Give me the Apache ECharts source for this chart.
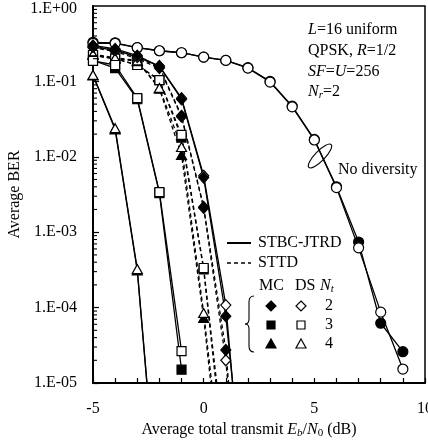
<!DOCTYPE html>
<html>
<head>
<meta charset="utf-8">
<script src="https://cdn.jsdelivr.net/npm/echarts/dist/echarts.min.js"></script>
<style>
  html, body { margin: 0; padding: 0; background: #fff; }
  #chart { width: 428px; height: 440px; }
</style>
</head>
<body>
<div id="chart"></div>
<script>
  // Eb/N0 (dB) grid, every series starts at -5 dB
  const snr = [-5, -4, -3, -2, -1, 0, 1, 2, 3, 4, 5, 6, 7, 8, 9]

  // no diversity
  const noDivMC = [0.33, 0.325, 0.28, 0.255, 0.24, 0.21, 0.19, 0.152, 0.1, 0.047, 0.017, 0.004, 7.4e-4, 6.2e-5, 2.6e-5]
  const noDivDS = [0.32, 0.32, 0.28, 0.255, 0.24, 0.21, 0.19, 0.15, 0.098, 0.046, 0.0167, 0.0039, 6.2e-4, 8.7e-5, 1.53e-5]

  // STBC-JTRD (solid)
  const jtrdMC2 = [0.3, 0.27, 0.22, 0.158, 0.058, 0.0053, 7.7e-5, 1e-7]
  const jtrdDS2 = [0.286, 0.26, 0.21, 0.16, 0.06, 0.0056, 1.08e-4, 5e-8]
  const jtrdMC3 = [0.19, 0.15, 0.058, 0.0033, 1.5e-5]
  const jtrdDS3 = [0.187, 0.165, 0.06, 0.0034, 2.65e-5]
  const jtrdMC4 = [0.12, 0.023, 3.1e-4, 1.1e-7]
  const jtrdDS4 = [0.122, 0.024, 3.25e-4, 1.2e-7]

  // STTD (dashed)
  const sttdMC2 = [0.29, 0.26, 0.21, 0.155, 0.035, 0.00216, 2.74e-5, 1e-8]
  const sttdDS2 = [0.28, 0.25, 0.2, 0.15, 0.034, 0.0021, 2.0e-5, 1e-8]
  const sttdMC3 = [0.22, 0.2, 0.165, 0.104, 0.018, 3.2e-4, 6e-7]
  const sttdDS3 = [0.224, 0.2, 0.165, 0.104, 0.0195, 3.35e-4, 8.7e-7]
  const sttdMC4 = [0.225, 0.2, 0.185, 0.08, 0.0106, 7.3e-5, 1.5e-7]
  const sttdDS4 = [0.23, 0.205, 0.19, 0.082, 0.0135, 8.5e-5, 2.4e-7]

  const yDecades = [-5, -4, -3, -2, -1]
  const minorMantissa = [2, 3, 4, 5, 6, 7, 8, 9]

  const FONT = '"Liberation Serif", "Times New Roman", serif'

  function mk (name, vals, symbol, filled, dashed, size) {
    return {
      name: name,
      type: 'line',
      data: vals.map((v, i) => [snr[i], v]),
      symbol: symbol,
      symbolSize: size,
      showAllSymbol: true,
      clip: true,
      lineStyle: { color: '#000', width: 1.3, type: dashed ? [4, 3] : 'solid' },
      itemStyle: { color: filled ? '#000' : '#fff', borderColor: '#000', borderWidth: 1.2 },
      emphasis: { disabled: true }
    }
  }

  const minorTicks = []
  yDecades.forEach(e => minorMantissa.forEach(m => minorTicks.push([-5, m * Math.pow(10, e)])))

  const rich = {
    n: { fontFamily: FONT, fontSize: 16, color: '#000' },
    i: { fontFamily: FONT, fontSize: 16, fontStyle: 'italic', color: '#000' },
    sub: { fontFamily: FONT, fontSize: 11, fontStyle: 'italic', color: '#000', padding: [7, 0, 0, 0] },
    subn: { fontFamily: FONT, fontSize: 11, color: '#000', padding: [7, 0, 0, 0] }
  }
  function txt (x, y, text, align) {
    return {
      type: 'text', x: x, y: y, silent: true,
      style: { text: text, rich: rich, font: '16px ' + FONT, fill: '#000', align: align || 'left', verticalAlign: 'middle' }
    }
  }
  function diamond (cx, cy, filled) {
    return { type: 'polygon', shape: { points: [[cx, cy - 5], [cx + 5, cy], [cx, cy + 5], [cx - 5, cy]] },
      style: { fill: filled ? '#000' : '#fff', stroke: '#000', lineWidth: 1.2 } }
  }
  function square (cx, cy, filled) {
    return { type: 'rect', shape: { x: cx - 4, y: cy - 4, width: 8, height: 8 },
      style: { fill: filled ? '#000' : '#fff', stroke: '#000', lineWidth: 1.2 } }
  }
  function triangle (cx, cy, filled) {
    return { type: 'polygon', shape: { points: [[cx, cy - 5], [cx + 5, cy + 4], [cx - 5, cy + 4]] },
      style: { fill: filled ? '#000' : '#fff', stroke: '#000', lineWidth: 1.2 } }
  }
  const bz = (x1, y1, cx, cy, x2, y2) => ({ type: 'bezierCurve',
    shape: { x1: x1, y1: y1, x2: x2, y2: y2, cpx1: cx, cpy1: cy },
    style: { stroke: '#000', fill: null, lineWidth: 1.1 } })

  const chart = echarts.init(document.getElementById('chart'))
  chart.setOption({
    animation: false,
    grid: {
      left: 93, right: 3, top: 6, bottom: 57, show: true, borderColor: '#000', borderWidth: 1.5,
      containLabel: false, outerBoundsMode: 'none'
    },
    xAxis: {
      type: 'value', min: -5, max: 10, interval: 5,
      axisLine: { show: true, onZero: false, lineStyle: { color: '#000', width: 2 } },
      axisTick: { inside: true, length: 5, lineStyle: { color: '#000', width: 1.2 } },
      minorTick: { show: true, splitNumber: 5, length: 5, lineStyle: { color: '#000', width: 1.2 } },
      splitLine: { show: false },
      axisLabel: { margin: 18, color: '#000', fontSize: 16, fontFamily: FONT, showMaxLabel: true },
      name: '{n|Average total transmit }{i|E}{sub|b}{n|/}{i|N}{subn|0}{n| (dB)}',
      nameLocation: 'middle', nameGap: 37,
      nameTextStyle: { rich: rich, padding: [0, 20, 0, 0] }
    },
    yAxis: {
      type: 'log', logBase: 10, min: 1e-5, max: 1,
      axisLine: { show: true, onZero: false, lineStyle: { color: '#000', width: 2 } },
      axisTick: { inside: true, length: 6, lineStyle: { color: '#000', width: 1.2 } },
      splitLine: { show: false },
      axisLabel: {
        margin: 16, color: '#000', fontSize: 16, fontFamily: FONT, showMaxLabel: false,
        formatter: v => {
          const e = Math.round(Math.log10(v))
          return '1.E' + (e < 0 ? '-' : '+') + String(Math.abs(e)).padStart(2, '0')
        }
      },
      name: 'Average BER', nameLocation: 'middle', nameGap: 66,
      nameTextStyle: { color: '#000', fontSize: 16, fontFamily: FONT }
    },
    series: [
      mk('MC no div', noDivMC, 'circle', true, false, 10),
      mk('DS no div', noDivDS, 'circle', false, false, 10),
      mk('STTD DS 2', sttdDS2, 'diamond', false, true, [10, 11]),
      mk('STTD MC 2', sttdMC2, 'diamond', true, true, [10, 11]),
      mk('STTD MC 3', sttdMC3, 'rect', true, true, 9),
      mk('STTD DS 3', sttdDS3, 'rect', false, true, 9),
      mk('STTD MC 4', sttdMC4, 'triangle', true, true, [10, 9]),
      mk('STTD DS 4', sttdDS4, 'triangle', false, true, [10, 9]),
      mk('JTRD DS 2', jtrdDS2, 'diamond', false, false, [10, 11]),
      mk('JTRD MC 2', jtrdMC2, 'diamond', true, false, [10, 11]),
      mk('JTRD MC 3', jtrdMC3, 'rect', true, false, 9),
      mk('JTRD DS 3', jtrdDS3, 'rect', false, false, 9),
      mk('JTRD MC 4', jtrdMC4, 'triangle', true, false, [10, 9]),
      mk('JTRD DS 4', jtrdDS4, 'triangle', false, false, [10, 9]),
      {
        // log-spaced minor ticks on the BER axis
        type: 'custom', silent: true, z: 5, clip: false,
        data: minorTicks,
        renderItem (params, api) {
          const p = api.coord([api.value(0), api.value(1)])
          return { type: 'line', shape: { x1: p[0], y1: p[1], x2: p[0] + 4, y2: p[1] },
            style: { stroke: '#000', lineWidth: 1.1 } }
        }
      }
    ],
    graphic: [
      // top tick label sits a bit low in the original, keep it inside the page
      txt(77, 9, '{n|1.E+00}', 'right'),
      txt(308, 30, '{i|L}{n|=16 uniform}'),
      txt(308, 51, '{n|QPSK, }{i|R}{n|=1/2}'),
      txt(308, 72, '{i|SF}{n|=}{i|U}{n|=256}'),
      txt(308, 92, '{i|N}{sub|r}{n|=2}'),
      txt(338, 170, '{n|No diversity}'),
      { type: 'ellipse', x: 320, y: 156, rotation: 0.8, shape: { cx: 0, cy: 0, rx: 16, ry: 5 },
        style: { fill: null, stroke: '#000', lineWidth: 1.1 } },
      { type: 'line', shape: { x1: 227, y1: 243, x2: 251, y2: 243 }, style: { stroke: '#000', lineWidth: 2 } },
      txt(258, 243, '{n|STBC-JTRD}'),
      { type: 'line', shape: { x1: 227, y1: 263, x2: 251, y2: 263 }, style: { stroke: '#000', lineWidth: 1.3, lineDash: [4, 3] } },
      txt(258, 263, '{n|STTD}'),
      txt(259, 286, '{n|MC}'),
      txt(295, 286, '{n|DS}'),
      txt(320, 286, '{i|N}{sub|t}'),
      diamond(271, 306, true), diamond(301, 306, false), txt(329, 306, '{n|2}', 'center'),
      square(271, 325, true), square(301, 325, false), txt(329, 325, '{n|3}', 'center'),
      triangle(271, 344, true), triangle(301, 344, false), txt(329, 344, '{n|4}', 'center'),
      bz(254, 296, 249, 296, 249, 302),
      { type: 'line', shape: { x1: 249, y1: 302, x2: 249, y2: 319 }, style: { stroke: '#000', lineWidth: 1.1 } },
      bz(249, 319, 249, 324, 245, 324),
      bz(245, 324, 249, 324, 249, 329),
      { type: 'line', shape: { x1: 249, y1: 329, x2: 249, y2: 346 }, style: { stroke: '#000', lineWidth: 1.1 } },
      bz(249, 346, 249, 352, 254, 352)
    ]
  })
</script>
</body>
</html>
